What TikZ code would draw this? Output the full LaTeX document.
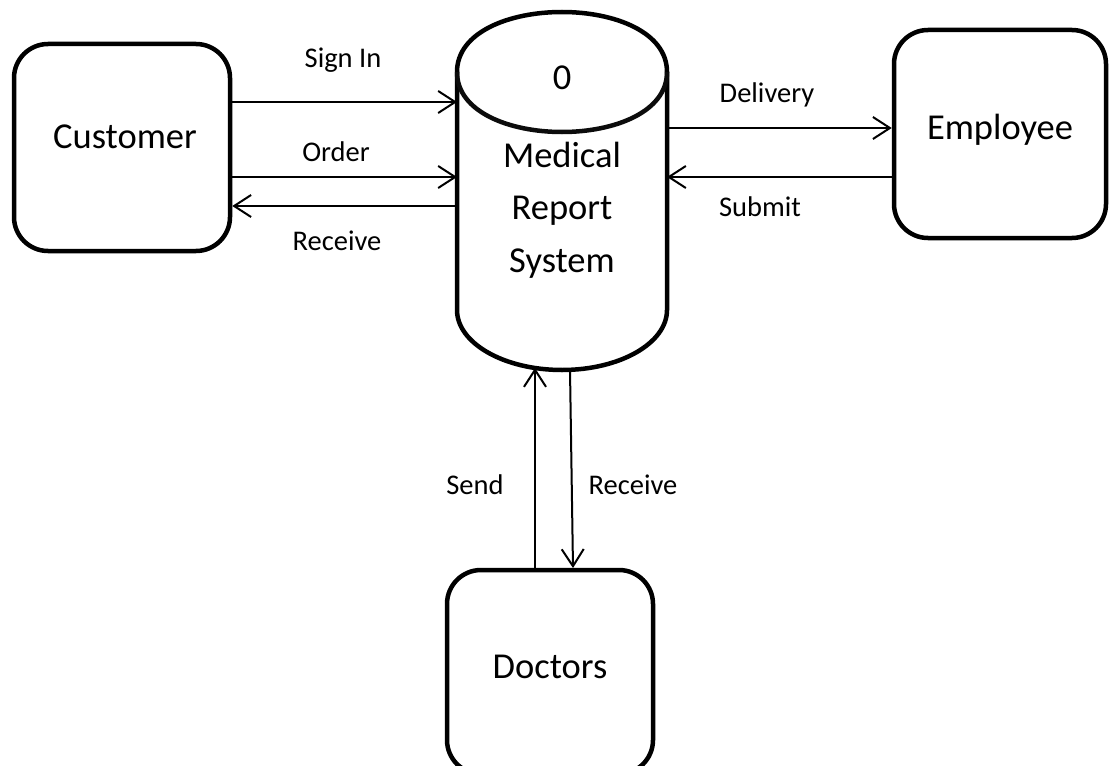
\documentclass[tikz,border=0pt]{standalone}
\usepackage{fontspec}
\setmainfont{Carlito}
\usetikzlibrary{arrows.meta}
\definecolor{capink}{RGB}{12,12,12}
\begin{document}
\begin{tikzpicture}[x=1pt,y=1pt,
  entity/.style={draw, line width=4.5pt, rounded corners=34pt, inner sep=0pt},
  bigtxt/.style={font=\fontsize{36.5}{52.5}\selectfont, inner sep=0pt, align=center},
  flowtxt/.style={font=\fontsize{28.5}{34}\selectfont, inner sep=0pt},
  flow/.style={line width=2pt, -{Straight Barb[length=17pt,width=22pt,line width=2pt]}},
  hidden/.style={inner sep=0pt, outer sep=0pt},
  cyl/.style={draw, line width=4.5pt}]
\useasboundingbox (0,0) rectangle (1110,-765);

% external entities
\node[entity, minimum width=216pt, minimum height=207pt] (cust) at (122,-147.5) {};
\node[entity, minimum width=212pt, minimum height=208pt] (emp) at (1000,-134) {};
\node[entity, minimum width=206pt, minimum height=204pt] (doc) at (550,-672) {};
\node[bigtxt] (custtxt) at (125,-137) {Customer};
\node[bigtxt] (emptxt) at (1000,-130) {Employee};
\node[bigtxt] (doctxt) at (550,-667) {Doctors};

% process drawn as a cylinder: sides and rounded base
\draw[cyl] (457,-72) -- (457,-310)
  arc [start angle=180, end angle=360, x radius=105pt, y radius=60pt]
  -- (667,-72);
% upper and lower halves of the top cap
\draw[cyl] (457,-72) .. controls (457,8) and (667,8) .. (667,-72);
\draw[cyl, draw=capink] (457,-72) .. controls (457,-152) and (667,-152) .. (667,-72);
\node[hidden, minimum width=210pt, minimum height=238pt] (sys) at (562,-191) {};
\coordinate (sysbotL) at (535,-368);
\coordinate (sysbotR) at (570,-370);
\coordinate (docin) at (573,-568);
\node[bigtxt] (zero) at (562,-78) {0};
\node[bigtxt] (systxt) at (562,-210) {Medical\\Report\\System};

% data flows
\draw[flow] (cust.east |- 0,-102) -- (sys.west |- 0,-102);
\draw[flow] (cust.east |- 0,-177) -- (sys.west |- 0,-177);
\draw[flow] (sys.west |- 0,-206) -- (cust.east |- 0,-206);
\draw[flow] (sys.east |- 0,-128) -- (emp.west |- 0,-128);
\draw[flow] (emp.west |- 0,-177) -- (sys.east |- 0,-177);
\draw[flow] ([yshift=-4pt]doc.north -| sysbotL) -- (sysbotL);
\draw[flow] (sysbotR) -- (docin);

% flow labels
\node[flowtxt] (l1) at (343,-60) {Sign In};
\node[flowtxt] (l2) at (336,-152) {Order};
\node[flowtxt] (l3) at (337,-241) {Receive};
\node[flowtxt] (l4) at (767,-95) {Delivery};
\node[flowtxt] (l5) at (760,-207) {Submit};
\node[flowtxt] (l6) at (475,-485) {Send};
\node[flowtxt] (l7) at (633,-485) {Receive};
\end{tikzpicture}
\end{document}
